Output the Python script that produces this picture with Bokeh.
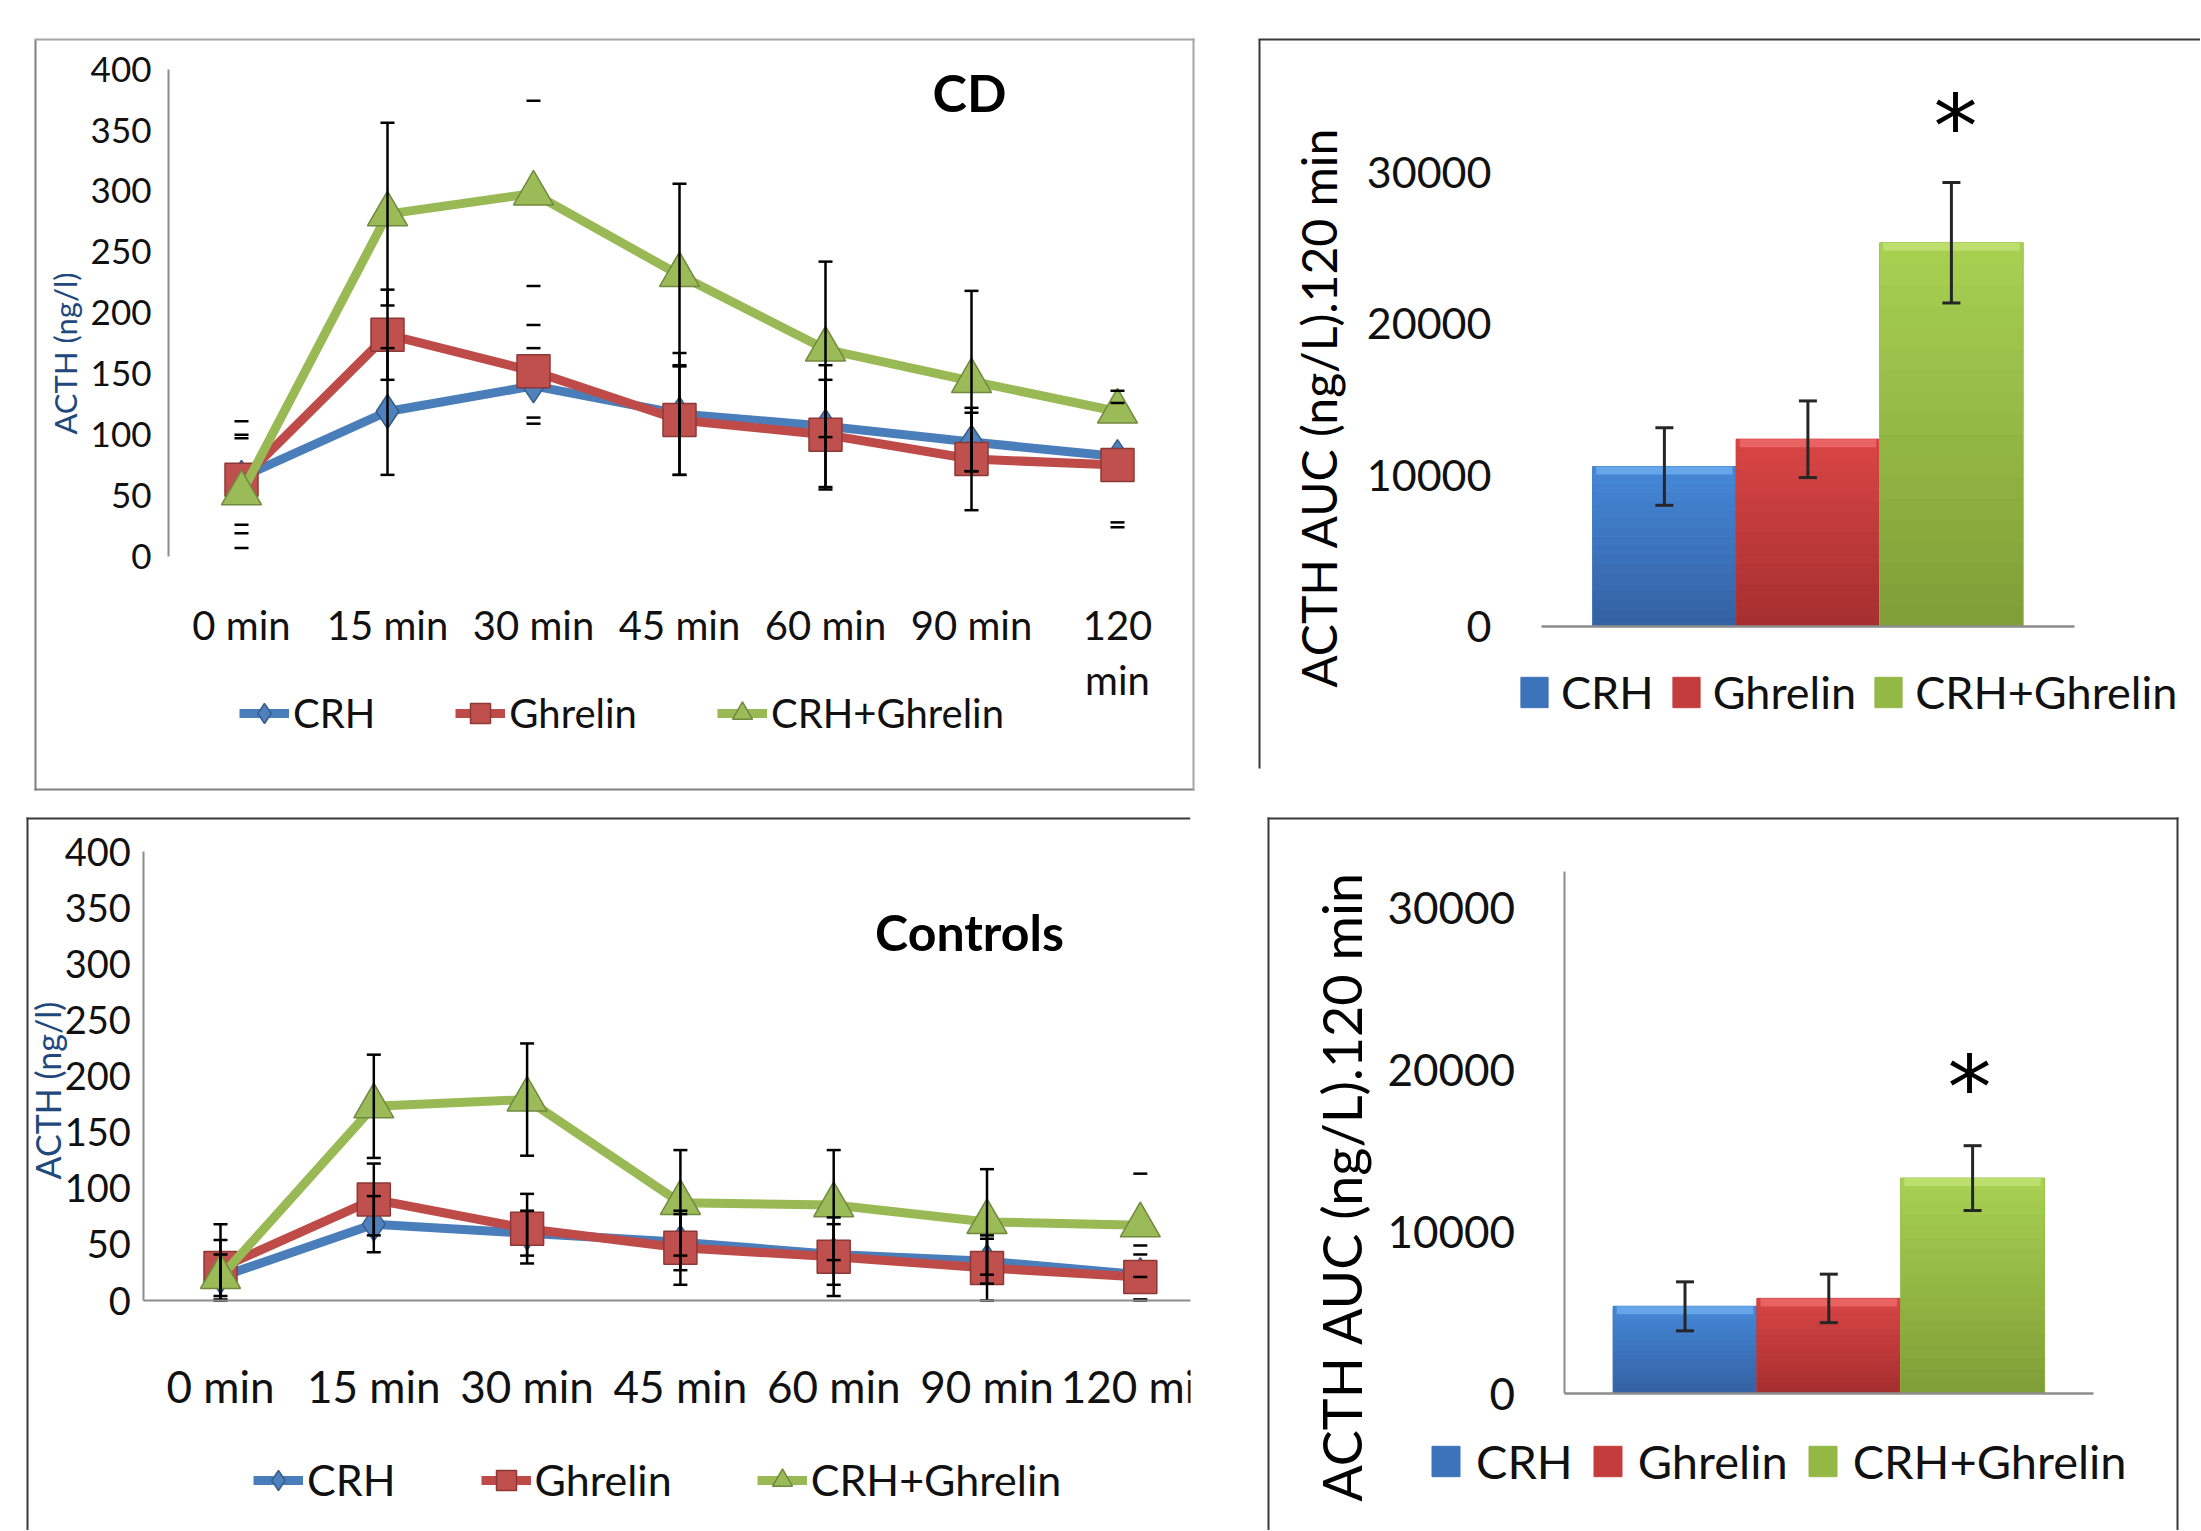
import math
from bokeh.plotting import figure
from bokeh.models import Range1d, FixedTicker, Legend, LegendItem, Label, BoxAnnotation
from bokeh.layouts import column, row
from bokeh.embed import file_html
from bokeh.resources import INLINE

# ---------------- data ----------------
TIMES = ["0 min", "15 min", "30 min", "45 min", "60 min", "90 min", "120 min"]
SERIES = ["CRH", "Ghrelin", "CRH+Ghrelin"]

# CD patients, ACTH (ng/l)
CD_CRH = [65, 119, 140, 117, 107, 94, 82]
CD_CRH_ERR = [46, 52, 31, 50, 50, 24, 54]
CD_GHR = [63, 182, 152, 112, 100, 80, 75]
CD_GHR_ERR = [37, 37, 38, 45, 45, 42, 51]
CD_CG = [52, 281, 298, 231, 170, 144, 119]
CD_CG_ERR = [45, 75, 76, 75, 72, 74, 0]
CD_STEMS = ["15 min", "45 min", "60 min", "90 min"]

# Controls, ACTH (ng/l)
CT_CRH = [21, 68, 60, 52, 41, 35, 23]
CT_CRH_ERR = [20, 25, 20, 25, 27, 20, 26]
CT_GHR = [29, 90, 64, 47, 39, 29, 21]
CT_GHR_ERR = [25, 32, 31, 33, 35, 29, 20]
CT_CG = [21, 173, 179, 87, 85, 70, 67]
CT_CG_ERR = [47, 46, 50, 47, 49, 47, 46]
CT_STEMS = ["0 min", "15 min", "30 min", "45 min", "60 min", "90 min"]

# AUC (ng/L).120 min
AUC_CD = [10560, 12360, 25330]
AUC_CD_ERR = [2560, 2530, 3975]
AUC_CT = [5390, 5880, 13320]
AUC_CT_ERR = [1515, 1500, 2005]

Y_TICKS_LINE = [0, 50, 100, 150, 200, 250, 300, 350, 400]
Y_TICKS_AUC = [0, 10000, 20000, 30000]

# ---------------- style ----------------
FONT = "Lato"
LINE_COLORS = ["#4A7EBB", "#BE4B48", "#98B954"]
MARK_FILL = ["#4F81BD", "#C0504D", "#9BBB59"]
MARK_LINE = ["#385D8A", "#8C3836", "#71893F"]
MARKERS = ["diamond", "square", "triangle"]
MARK_SIZE = [34, 33, 40]
BAR_COLORS = ["#3D73BA", "#C43D3C", "#93B845"]
BAR_TOP = ["#4688D8", "#D94545", "#A8D152"]
BAR_BOTTOM = ["#3361A2", "#A52F2F", "#7F9E37"]
BAR_BEVEL = ["#6EAEEE", "#EE6C6C", "#C2E277"]
AXIS_GREY = "#8c8c8c"
N_SHADES = 18


def mix(c1, c2, t):
    a = [int(c1[i:i + 2], 16) for i in (1, 3, 5)]
    b = [int(c2[i:i + 2], 16) for i in (1, 3, 5)]
    return "#" + "".join(f"{round(a[j] + (b[j] - a[j]) * t):02x}" for j in range(3))


class Panel:
    """A figure whose frame fills its whole canvas.  Positions of annotations are given
    in page pixels (origin top-left of the page) and converted into data space."""

    def __init__(self, ox, oy, W, H, x0px, xppu, y0px, yppu):
        self.ox, self.oy, self.W, self.H = ox, oy, W, H
        self.yppu = yppu
        cx0 = x0px - ox
        cy0 = y0px - oy
        self.xr = (-cx0 / xppu, (W - cx0) / xppu)
        self.yr = (-(H - cy0) / yppu, cy0 / yppu)
        p = figure(width=W, height=H, x_range=Range1d(*self.xr), y_range=Range1d(*self.yr),
                   output_backend="svg", toolbar_location=None,
                   min_border_left=0, min_border_right=0, min_border_top=0,
                   min_border_bottom=0)
        p.title.visible = False
        p.xgrid.visible = False
        p.ygrid.visible = False
        p.outline_line_color = None
        p.background_fill_color = "white"
        p.border_fill_color = "white"
        for ax in (p.xaxis[0], p.yaxis[0]):
            ax.major_tick_line_color = None
            ax.minor_tick_line_color = None
            ax.major_tick_in = 0
            ax.major_tick_out = 0
            ax.minor_tick_in = 0
            ax.minor_tick_out = 0
            ax.major_label_text_font = FONT
            ax.major_label_text_color = "#111111"
        self.p = p

    def x(self, px):
        return self.xr[0] + (px - self.ox) * (self.xr[1] - self.xr[0]) / self.W

    def y(self, py):
        return self.yr[1] - (py - self.oy) * (self.yr[1] - self.yr[0]) / self.H

    def box(self, l, t, r, b, color):
        self.p.add_layout(BoxAnnotation(left=self.x(l), right=self.x(r), top=self.y(t),
                                        bottom=self.y(b), fill_color=color, fill_alpha=1.0,
                                        line_color=None, level="overlay"))

    def label(self, px, py, text, size, color="black", angle=0.0, style="normal",
              font=FONT):
        self.p.add_layout(Label(x=self.x(px), y=self.y(py), text=text, angle=angle,
                                text_align="center", text_baseline="middle",
                                text_font=font, text_font_size=f"{size}px",
                                text_color=color, text_font_style=style))

    def legend(self, items, left_px, bottom_px, size, spacing, standoff, gw, gh):
        leg = Legend(items=items,
                     location=(left_px - self.ox, self.H - (bottom_px - self.oy)),
                     orientation="horizontal", border_line_color=None,
                     background_fill_alpha=0, padding=0, margin=0, spacing=spacing,
                     label_standoff=standoff, glyph_width=gw, glyph_height=gh,
                     label_text_font=FONT, label_text_font_size=f"{size}px",
                     label_text_color="#111111")
        self.p.add_layout(leg, "center")


def line_panel(P, data, stems, tick_size, ylab_standoff, xlab_size, xlab_standoff,
               x_axis_line, label_overrides, line_height):
    p = P.p
    xs = list(range(len(TIMES)))
    p.xaxis.fixed_location = 0
    p.xaxis.bounds = (-0.5, P.xr[1])
    p.xaxis.ticker = FixedTicker(ticks=xs)
    p.xaxis.major_label_overrides = label_overrides
    p.xaxis.major_label_text_font_size = f"{xlab_size}px"
    p.xaxis.major_label_text_line_height = line_height
    p.xaxis.major_label_standoff = xlab_standoff
    if x_axis_line:
        p.xaxis.axis_line_color = AXIS_GREY
        p.xaxis.axis_line_width = 2
    else:
        p.xaxis.axis_line_color = None
    p.yaxis.fixed_location = -0.5
    p.yaxis.bounds = (0, 400)
    p.yaxis.ticker = FixedTicker(ticks=Y_TICKS_LINE)
    p.yaxis.major_label_text_font_size = f"{tick_size}px"
    p.yaxis.major_label_standoff = ylab_standoff
    p.yaxis.axis_line_color = AXIS_GREY
    p.yaxis.axis_line_width = 2

    items = []
    for k, (vals, errs) in enumerate(data):
        lr = p.line(xs, vals, line_color=LINE_COLORS[k], line_width=9, line_join="round")
        mr = p.scatter(xs, vals, marker=MARKERS[k], size=MARK_SIZE[k],
                       fill_color=MARK_FILL[k], line_color=MARK_LINE[k], line_width=1.5)
        items.append(LegendItem(label=SERIES[k], renderers=[lr, mr]))
    for k, (vals, errs) in enumerate(data):
        sx = [i for i, t in enumerate(TIMES) if t in stems]
        p.segment(x0=sx, x1=sx, y0=[max(vals[i] - errs[i], 0) for i in sx],
                  y1=[vals[i] + errs[i] for i in sx], line_color="black", line_width=2.5)
        cx = [i for i in xs if errs[i] > 0]
        p.scatter(cx, [vals[i] + errs[i] for i in cx], marker="dash", size=14,
                  line_color="black", line_width=2.5)
        p.scatter(cx, [max(vals[i] - errs[i], 0) for i in cx], marker="dash", size=14,
                  line_color="black", line_width=2.5)
    return items


def bar_panel(P, axis_px, y_top, vals, errs, tick_size, tick_standoff, y_axis_line):
    p = P.p
    ax_x = P.x(axis_px)
    x_end = 2.5 + (-0.5 - ax_x)
    p.xaxis.fixed_location = 0
    p.xaxis.bounds = (ax_x, x_end)
    p.xaxis.ticker = FixedTicker(ticks=[])
    p.xaxis.axis_line_color = AXIS_GREY
    p.xaxis.axis_line_width = 2.5
    p.yaxis.fixed_location = ax_x
    p.yaxis.bounds = (0, y_top)
    p.yaxis.ticker = FixedTicker(ticks=Y_TICKS_AUC)
    p.yaxis.major_label_text_font_size = f"{tick_size}px"
    p.yaxis.major_label_standoff = tick_standoff
    if y_axis_line:
        p.yaxis.axis_line_color = AXIS_GREY
        p.yaxis.axis_line_width = 2
    else:
        p.yaxis.axis_line_color = None
    items = []
    bevel = 8 / P.yppu
    for k, name in enumerate(SERIES):
        v = vals[k]
        r = p.vbar(x=[k], top=[v], bottom=0, width=1.0,
                   fill_color=BAR_COLORS[k], line_color=BAR_COLORS[k], line_width=1)
        items.append(LegendItem(label=name, renderers=[r]))
        # vertical shading of the bar (Excel style gradient)
        bots = [v * i / N_SHADES for i in range(N_SHADES)]
        tops = [v * (i + 1) / N_SHADES for i in range(N_SHADES)]
        cols = [mix(BAR_BOTTOM[k], BAR_TOP[k], (i + 0.5) / N_SHADES) for i in range(N_SHADES)]
        p.vbar(x=[k] * N_SHADES, bottom=bots, top=tops, width=0.995,
               fill_color=cols, line_color=cols, line_width=0.5)
        p.vbar(x=[k], bottom=[v - bevel], top=[v], width=0.95,
               fill_color=BAR_BEVEL[k], fill_alpha=0.8, line_color=None)
    xs = list(range(len(SERIES)))
    p.segment(x0=xs, x1=xs, y0=[v - e for v, e in zip(vals, errs)],
              y1=[v + e for v, e in zip(vals, errs)], line_color="#262626", line_width=3)
    p.scatter(xs, [v + e for v, e in zip(vals, errs)], marker="dash", size=18,
              line_color="#262626", line_width=3)
    p.scatter(xs, [v - e for v, e in zip(vals, errs)], marker="dash", size=18,
              line_color="#262626", line_width=3)
    return items


def star(P, cx, cy, size):
    # the asterisk glyph sits above the 'middle' anchor
    P.label(cx, cy + 0.29 * size, "*", size, font="DejaVu Sans")


# ---------------- panel 1: CD time course ----------------
P1 = Panel(0, 0, 1230, 800, 241, 146, 556, 487.4 / 400)
cd_over = {i: t for i, t in enumerate(TIMES)}
cd_over[6] = "120\nmin"
it1 = line_panel(P1, [(CD_CRH, CD_CRH_ERR), (CD_GHR, CD_GHR_ERR), (CD_CG, CD_CG_ERR)],
                 CD_STEMS, 35, 17, 40, 44, False, cd_over, 1.15)
P1.legend(it1, 239, 738, 40, 80, 4, 50, 50)
P1.label(969, 91, "CD", 52, style="bold")
P1.label(64, 353, "ACTH (ng/l)", 31, color="#1F497D", angle=math.pi / 2)
P1.box(34, 39, 36, 790, "#7f7f7f")
P1.box(34, 788, 1194, 790, "#7f7f7f")
P1.box(34, 38, 1194, 40, "#a6a6a6")
P1.box(1192, 38, 1194, 790, "#a6a6a6")

# ---------------- panel 2: CD AUC ----------------
P2 = Panel(1230, 0, 970, 800, 1663.9, 143.5, 626, 0.01515)
it2 = bar_panel(P2, 1541, 35000, AUC_CD, AUC_CD_ERR, 43, 50, False)
star(P2, 1955, 100, 88)
P2.legend(it2, 1517, 719, 45, 15, 10, 34, 38)
P2.label(1318, 407, "ACTH AUC (ng/L).120 min", 48, angle=math.pi / 2)
P2.box(1258, 39, 1260, 768, "#3a3a3a")
P2.box(1258, 38, 2201, 40, "#3a3a3a")

# ---------------- panel 3: Controls time course (cut at the right edge) ----------------
P3 = Panel(0, 800, 1230, 730, 220, 153.3, 1300, 1.1225)
ct_over = {i: t for i, t in enumerate(TIMES)}
it3 = line_panel(P3, [(CT_CRH, CT_CRH_ERR), (CT_GHR, CT_GHR_ERR), (CT_CG, CT_CG_ERR)],
                 CT_STEMS, 38, 13, 44, 59, True, ct_over, 1.2)
P3.legend(it3, 253, 1505, 43, 85, 4, 50, 50)
P3.label(969, 931, "Controls", 50, style="bold")
P3.label(47, 1090, "ACTH (ng/l)", 34, color="#1F497D", angle=math.pi / 2)
P3.box(26, 817, 28, 1531, "#3a3a3a")
P3.box(26, 817, 1190, 819, "#3a3a3a")
P3.box(1190, 800, 1232, 1531, "white")   # the source image is cropped here

# ---------------- panel 4: Controls AUC ----------------
P4 = Panel(1230, 800, 970, 730, 1684.5, 143.8, 1393, 0.01617)
it4 = bar_panel(P4, 1563.5, 32300, AUC_CT, AUC_CT_ERR, 44, 49, True)
star(P4, 1969, 1061, 88)
P4.legend(it4, 1428, 1489, 47, 17, 13, 35, 38)
P4.label(1341, 1186, "ACTH AUC (ng/L).120 min", 54, angle=math.pi / 2)
P4.box(1267, 817, 1269, 1531, "#3a3a3a")
P4.box(1267, 817, 2178, 819, "#3a3a3a")
P4.box(2176, 817, 2178, 1531, "#3a3a3a")

layout = column(row(P1.p, P2.p), row(P3.p, P4.p))
open("out.html", "w").write(file_html(layout, INLINE))
